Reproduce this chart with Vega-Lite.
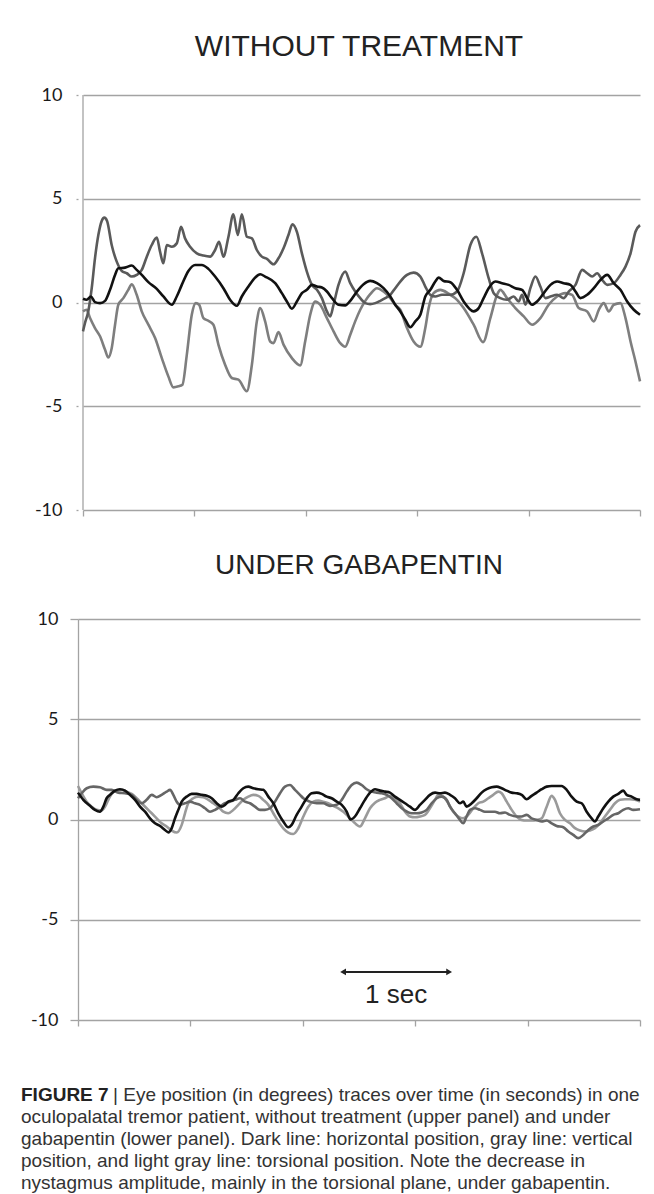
{
  "$schema": "https://vega.github.io/schema/vega-lite/v6.json",
  "background": "white",
  "padding": {"left": 21, "top": 32, "right": 0, "bottom": 0},
  "spacing": 33,
  "config": {
    "view": {"stroke": null},
    "font": "Liberation Sans",
    "title": {"font": "Liberation Sans", "fontWeight": "normal", "color": "#222222", "anchor": "middle"}
  },
  "datasets": {
    "top_h": [{"t":0,"v":0.18},{"t":0.035,"v":0.13},{"t":0.076,"v":0.29},{"t":0.114,"v":0.02},{"t":0.162,"v":-0.03},{"t":0.21,"v":0.08},{"t":0.257,"v":0.61},{"t":0.305,"v":1.33},{"t":0.336,"v":1.65},{"t":0.4,"v":1.68},{"t":0.464,"v":1.78},{"t":0.511,"v":1.57},{"t":0.559,"v":1.33},{"t":0.622,"v":0.98},{"t":0.702,"v":0.66},{"t":0.765,"v":0.29},{"t":0.845,"v":-0.11},{"t":0.892,"v":0.29},{"t":0.94,"v":0.85},{"t":1.003,"v":1.52},{"t":1.067,"v":1.81},{"t":1.13,"v":1.81},{"t":1.193,"v":1.62},{"t":1.257,"v":1.25},{"t":1.336,"v":0.69},{"t":1.4,"v":0.13},{"t":1.464,"v":-0.16},{"t":1.511,"v":0.29},{"t":1.574,"v":0.77},{"t":1.638,"v":1.2},{"t":1.686,"v":1.36},{"t":1.733,"v":1.25},{"t":1.829,"v":0.93},{"t":1.892,"v":0.45},{"t":1.94,"v":0.05},{"t":1.988,"v":-0.3},{"t":2.035,"v":0.05},{"t":2.083,"v":0.45},{"t":2.13,"v":0.61},{"t":2.178,"v":0.85},{"t":2.226,"v":0.77},{"t":2.273,"v":0.72},{"t":2.321,"v":0.53},{"t":2.369,"v":0.21},{"t":2.431,"v":-0.11},{"t":2.495,"v":-0.14},{"t":2.543,"v":0.08},{"t":2.607,"v":0.53},{"t":2.67,"v":0.88},{"t":2.733,"v":1.04},{"t":2.797,"v":0.93},{"t":2.86,"v":0.69},{"t":2.924,"v":0.29},{"t":2.971,"v":-0.11},{"t":3.019,"v":-0.43},{"t":3.067,"v":-0.83},{"t":3.114,"v":-1.19},{"t":3.162,"v":-0.91},{"t":3.21,"v":-0.59},{"t":3.257,"v":0.29},{"t":3.305,"v":0.61},{"t":3.352,"v":1.01},{"t":3.384,"v":1.2},{"t":3.431,"v":1.04},{"t":3.495,"v":0.98},{"t":3.559,"v":0.61},{"t":3.622,"v":0.05},{"t":3.717,"v":-0.43},{"t":3.765,"v":-0.27},{"t":3.812,"v":0.21},{"t":3.86,"v":0.69},{"t":3.924,"v":1.01},{"t":3.988,"v":0.93},{"t":4.05,"v":0.85},{"t":4.114,"v":0.69},{"t":4.178,"v":0.61},{"t":4.226,"v":0.21},{"t":4.273,"v":-0.11},{"t":4.321,"v":0.05},{"t":4.384,"v":0.45},{"t":4.448,"v":0.85},{"t":4.511,"v":1.01},{"t":4.574,"v":0.93},{"t":4.638,"v":0.85},{"t":4.686,"v":0.53},{"t":4.733,"v":0.21},{"t":4.797,"v":0.37},{"t":4.86,"v":0.69},{"t":4.924,"v":1.09},{"t":4.988,"v":1.33},{"t":5.05,"v":0.93},{"t":5.114,"v":0.61},{"t":5.178,"v":0.05},{"t":5.241,"v":-0.35},{"t":5.3,"v":-0.59}],
    "top_v": [{"t":0,"v":-1.39},{"t":0.019,"v":-0.99},{"t":0.05,"v":-0.43},{"t":0.083,"v":0.69},{"t":0.114,"v":2.13},{"t":0.146,"v":3.25},{"t":0.178,"v":3.93},{"t":0.203,"v":4.09},{"t":0.229,"v":3.93},{"t":0.273,"v":2.77},{"t":0.321,"v":1.97},{"t":0.369,"v":1.52},{"t":0.416,"v":1.41},{"t":0.464,"v":1.25},{"t":0.511,"v":1.33},{"t":0.559,"v":1.57},{"t":0.607,"v":2.21},{"t":0.654,"v":2.77},{"t":0.702,"v":3.13},{"t":0.733,"v":2.45},{"t":0.765,"v":1.89},{"t":0.797,"v":2.77},{"t":0.845,"v":2.69},{"t":0.892,"v":2.85},{"t":0.933,"v":3.65},{"t":0.971,"v":3.09},{"t":1.019,"v":2.69},{"t":1.083,"v":2.37},{"t":1.146,"v":2.26},{"t":1.21,"v":2.21},{"t":1.257,"v":2.53},{"t":1.295,"v":2.93},{"t":1.336,"v":2.21},{"t":1.384,"v":3.17},{"t":1.431,"v":4.25},{"t":1.473,"v":3.25},{"t":1.511,"v":4.25},{"t":1.559,"v":3.17},{"t":1.607,"v":3.09},{"t":1.654,"v":2.53},{"t":1.702,"v":2.21},{"t":1.75,"v":2.1},{"t":1.812,"v":1.84},{"t":1.86,"v":2.13},{"t":1.908,"v":2.61},{"t":1.955,"v":3.25},{"t":1.993,"v":3.77},{"t":2.035,"v":3.41},{"t":2.083,"v":2.37},{"t":2.13,"v":1.49},{"t":2.178,"v":0.85},{"t":2.226,"v":0.61},{"t":2.273,"v":0.21},{"t":2.321,"v":-0.43},{"t":2.352,"v":-0.67},{"t":2.384,"v":-0.11},{"t":2.431,"v":0.85},{"t":2.495,"v":1.49},{"t":2.543,"v":0.93},{"t":2.59,"v":0.53},{"t":2.638,"v":0.21},{"t":2.686,"v":-0.03},{"t":2.733,"v":-0.08},{"t":2.781,"v":-0.03},{"t":2.829,"v":0.08},{"t":2.876,"v":0.21},{"t":2.924,"v":0.37},{"t":2.971,"v":0.69},{"t":3.019,"v":1.01},{"t":3.083,"v":1.33},{"t":3.146,"v":1.44},{"t":3.21,"v":1.25},{"t":3.257,"v":0.77},{"t":3.305,"v":0.37},{"t":3.352,"v":0.29},{"t":3.416,"v":0.37},{"t":3.495,"v":0.37},{"t":3.559,"v":0.53},{"t":3.622,"v":1.41},{"t":3.686,"v":2.77},{"t":3.743,"v":3.17},{"t":3.797,"v":2.37},{"t":3.86,"v":1.17},{"t":3.908,"v":0.45},{"t":3.971,"v":0.21},{"t":4.035,"v":0.13},{"t":4.098,"v":0.29},{"t":4.146,"v":0.05},{"t":4.178,"v":0.37},{"t":4.21,"v":-0.11},{"t":4.257,"v":0.69},{"t":4.305,"v":1.25},{"t":4.352,"v":0.77},{"t":4.4,"v":0.21},{"t":4.448,"v":0.29},{"t":4.511,"v":0.37},{"t":4.574,"v":0.21},{"t":4.622,"v":0.53},{"t":4.686,"v":0.85},{"t":4.75,"v":1.57},{"t":4.797,"v":1.41},{"t":4.845,"v":1.25},{"t":4.892,"v":1.41},{"t":4.94,"v":1.09},{"t":4.988,"v":0.85},{"t":5.05,"v":0.93},{"t":5.114,"v":1.33},{"t":5.162,"v":1.73},{"t":5.21,"v":2.37},{"t":5.257,"v":3.41},{"t":5.3,"v":3.73}],
    "top_t": [{"t":0,"v":-0.43},{"t":0.035,"v":-0.35},{"t":0.067,"v":-0.75},{"t":0.114,"v":-1.23},{"t":0.162,"v":-1.63},{"t":0.21,"v":-2.28},{"t":0.241,"v":-2.65},{"t":0.273,"v":-2.2},{"t":0.305,"v":-1.07},{"t":0.336,"v":-0.11},{"t":0.384,"v":0.21},{"t":0.431,"v":0.61},{"t":0.464,"v":0.88},{"t":0.511,"v":0.37},{"t":0.559,"v":-0.43},{"t":0.622,"v":-1.07},{"t":0.686,"v":-1.71},{"t":0.75,"v":-2.68},{"t":0.812,"v":-3.56},{"t":0.86,"v":-4.09},{"t":0.908,"v":-4.04},{"t":0.946,"v":-3.96},{"t":0.988,"v":-2.51},{"t":1.035,"v":-0.59},{"t":1.073,"v":-0.03},{"t":1.105,"v":-0.11},{"t":1.146,"v":-0.75},{"t":1.193,"v":-0.88},{"t":1.241,"v":-1.07},{"t":1.289,"v":-2.04},{"t":1.352,"v":-3.0},{"t":1.416,"v":-3.64},{"t":1.479,"v":-3.72},{"t":1.559,"v":-4.28},{"t":1.607,"v":-3.0},{"t":1.654,"v":-0.91},{"t":1.686,"v":-0.27},{"t":1.733,"v":-0.91},{"t":1.781,"v":-1.88},{"t":1.812,"v":-1.96},{"t":1.86,"v":-1.43},{"t":1.908,"v":-2.03},{"t":1.988,"v":-2.68},{"t":2.067,"v":-3.03},{"t":2.114,"v":-1.88},{"t":2.162,"v":-0.59},{"t":2.21,"v":0.05},{"t":2.257,"v":-0.11},{"t":2.321,"v":-0.75},{"t":2.384,"v":-1.39},{"t":2.448,"v":-1.96},{"t":2.495,"v":-2.13},{"t":2.543,"v":-1.55},{"t":2.59,"v":-0.91},{"t":2.638,"v":-0.35},{"t":2.686,"v":0.08},{"t":2.733,"v":0.4},{"t":2.797,"v":0.69},{"t":2.86,"v":0.53},{"t":2.924,"v":0.21},{"t":2.971,"v":-0.11},{"t":3.019,"v":-0.35},{"t":3.083,"v":-1.23},{"t":3.146,"v":-1.88},{"t":3.21,"v":-2.13},{"t":3.257,"v":-1.23},{"t":3.289,"v":-0.27},{"t":3.336,"v":0.45},{"t":3.4,"v":0.61},{"t":3.464,"v":0.48},{"t":3.495,"v":0.37},{"t":3.559,"v":0.13},{"t":3.622,"v":-0.27},{"t":3.717,"v":-1.07},{"t":3.807,"v":-1.91},{"t":3.876,"v":-0.75},{"t":3.94,"v":0.37},{"t":3.971,"v":0.61},{"t":4.035,"v":0.21},{"t":4.114,"v":-0.27},{"t":4.194,"v":-0.67},{"t":4.273,"v":-1.07},{"t":4.352,"v":-0.75},{"t":4.431,"v":-0.11},{"t":4.511,"v":0.29},{"t":4.59,"v":0.45},{"t":4.654,"v":0.37},{"t":4.717,"v":-0.27},{"t":4.797,"v":-0.43},{"t":4.86,"v":-0.91},{"t":4.908,"v":-0.35},{"t":4.955,"v":-0.03},{"t":5.003,"v":-0.43},{"t":5.05,"v":-0.11},{"t":5.114,"v":-0.03},{"t":5.162,"v":-0.75},{"t":5.21,"v":-1.88},{"t":5.257,"v":-2.84},{"t":5.3,"v":-3.8}],
    "bot_h": [{"t":0,"v":1.34},{"t":0.05,"v":0.98},{"t":0.113,"v":0.68},{"t":0.16,"v":0.48},{"t":0.207,"v":0.39},{"t":0.239,"v":0.64},{"t":0.27,"v":1.06},{"t":0.302,"v":1.23},{"t":0.349,"v":1.44},{"t":0.396,"v":1.51},{"t":0.443,"v":1.44},{"t":0.49,"v":1.23},{"t":0.538,"v":0.98},{"t":0.585,"v":0.64},{"t":0.632,"v":0.39},{"t":0.679,"v":0.06},{"t":0.726,"v":-0.19},{"t":0.773,"v":-0.32},{"t":0.82,"v":-0.52},{"t":0.852,"v":-0.64},{"t":0.883,"v":-0.44},{"t":0.915,"v":0.06},{"t":0.946,"v":0.48},{"t":0.978,"v":0.89},{"t":1.025,"v":1.14},{"t":1.072,"v":1.28},{"t":1.119,"v":1.28},{"t":1.166,"v":1.23},{"t":1.214,"v":1.18},{"t":1.261,"v":1.06},{"t":1.308,"v":0.81},{"t":1.355,"v":0.64},{"t":1.386,"v":0.73},{"t":1.417,"v":0.89},{"t":1.465,"v":0.98},{"t":1.512,"v":1.31},{"t":1.559,"v":1.56},{"t":1.606,"v":1.64},{"t":1.653,"v":1.56},{"t":1.7,"v":1.51},{"t":1.747,"v":1.48},{"t":1.795,"v":1.14},{"t":1.842,"v":0.81},{"t":1.889,"v":0.31},{"t":1.936,"v":-0.1},{"t":1.983,"v":-0.39},{"t":2.015,"v":-0.27},{"t":2.062,"v":0.23},{"t":2.109,"v":0.64},{"t":2.157,"v":1.06},{"t":2.204,"v":1.31},{"t":2.251,"v":1.34},{"t":2.298,"v":1.28},{"t":2.345,"v":1.14},{"t":2.392,"v":1.06},{"t":2.44,"v":0.89},{"t":2.487,"v":0.73},{"t":2.534,"v":0.39},{"t":2.57,"v":0.0},{"t":2.612,"v":0.15},{"t":2.659,"v":0.56},{"t":2.706,"v":0.98},{"t":2.754,"v":1.34},{"t":2.801,"v":1.51},{"t":2.848,"v":1.44},{"t":2.895,"v":1.39},{"t":2.942,"v":1.34},{"t":2.989,"v":1.14},{"t":3.036,"v":0.98},{"t":3.084,"v":0.81},{"t":3.131,"v":0.64},{"t":3.178,"v":0.48},{"t":3.225,"v":0.73},{"t":3.272,"v":0.98},{"t":3.319,"v":1.23},{"t":3.367,"v":1.34},{"t":3.414,"v":1.31},{"t":3.461,"v":1.34},{"t":3.508,"v":1.23},{"t":3.555,"v":1.06},{"t":3.602,"v":0.81},{"t":3.633,"v":0.89},{"t":3.665,"v":0.64},{"t":3.713,"v":0.81},{"t":3.76,"v":1.06},{"t":3.807,"v":1.34},{"t":3.854,"v":1.51},{"t":3.901,"v":1.61},{"t":3.948,"v":1.64},{"t":3.995,"v":1.56},{"t":4.043,"v":1.44},{"t":4.09,"v":1.34},{"t":4.137,"v":1.31},{"t":4.184,"v":1.23},{"t":4.231,"v":1.01},{"t":4.278,"v":1.18},{"t":4.325,"v":1.34},{"t":4.373,"v":1.51},{"t":4.42,"v":1.64},{"t":4.467,"v":1.67},{"t":4.514,"v":1.67},{"t":4.561,"v":1.67},{"t":4.608,"v":1.48},{"t":4.655,"v":1.14},{"t":4.703,"v":0.89},{"t":4.75,"v":0.81},{"t":4.797,"v":0.39},{"t":4.844,"v":0.06},{"t":4.875,"v":-0.1},{"t":4.906,"v":0.15},{"t":4.954,"v":0.56},{"t":5.001,"v":0.89},{"t":5.048,"v":1.14},{"t":5.095,"v":1.28},{"t":5.142,"v":1.44},{"t":5.174,"v":1.23},{"t":5.221,"v":1.14},{"t":5.268,"v":1.01},{"t":5.3,"v":0.98}],
    "bot_v": [{"t":0,"v":1.06},{"t":0.035,"v":1.31},{"t":0.082,"v":1.56},{"t":0.144,"v":1.64},{"t":0.207,"v":1.61},{"t":0.27,"v":1.48},{"t":0.317,"v":1.48},{"t":0.38,"v":1.34},{"t":0.443,"v":1.31},{"t":0.506,"v":1.23},{"t":0.553,"v":0.98},{"t":0.6,"v":0.81},{"t":0.647,"v":0.98},{"t":0.695,"v":1.23},{"t":0.742,"v":1.11},{"t":0.789,"v":1.23},{"t":0.836,"v":1.39},{"t":0.868,"v":1.48},{"t":0.899,"v":1.23},{"t":0.931,"v":0.89},{"t":0.962,"v":0.73},{"t":1.009,"v":0.81},{"t":1.056,"v":0.89},{"t":1.103,"v":0.81},{"t":1.15,"v":0.73},{"t":1.198,"v":0.56},{"t":1.245,"v":0.39},{"t":1.292,"v":0.48},{"t":1.339,"v":0.64},{"t":1.386,"v":0.81},{"t":1.433,"v":0.89},{"t":1.481,"v":0.98},{"t":1.528,"v":1.06},{"t":1.575,"v":0.89},{"t":1.622,"v":0.81},{"t":1.669,"v":0.64},{"t":1.716,"v":0.48},{"t":1.763,"v":0.48},{"t":1.811,"v":0.56},{"t":1.858,"v":0.89},{"t":1.905,"v":1.31},{"t":1.952,"v":1.64},{"t":1.999,"v":1.72},{"t":2.046,"v":1.48},{"t":2.093,"v":1.23},{"t":2.125,"v":1.06},{"t":2.188,"v":0.89},{"t":2.251,"v":0.81},{"t":2.313,"v":0.81},{"t":2.376,"v":0.68},{"t":2.44,"v":0.73},{"t":2.487,"v":0.98},{"t":2.534,"v":1.39},{"t":2.581,"v":1.72},{"t":2.628,"v":1.84},{"t":2.675,"v":1.72},{"t":2.722,"v":1.51},{"t":2.77,"v":1.39},{"t":2.817,"v":1.34},{"t":2.864,"v":1.31},{"t":2.911,"v":1.23},{"t":2.958,"v":1.06},{"t":3.005,"v":0.81},{"t":3.053,"v":0.56},{"t":3.1,"v":0.4},{"t":3.147,"v":0.31},{"t":3.194,"v":0.31},{"t":3.241,"v":0.35},{"t":3.288,"v":0.48},{"t":3.335,"v":0.81},{"t":3.383,"v":1.06},{"t":3.43,"v":1.14},{"t":3.477,"v":0.98},{"t":3.508,"v":0.64},{"t":3.555,"v":0.31},{"t":3.602,"v":-0.02},{"t":3.633,"v":-0.19},{"t":3.665,"v":0.15},{"t":3.697,"v":0.48},{"t":3.744,"v":0.56},{"t":3.791,"v":0.48},{"t":3.838,"v":0.39},{"t":3.885,"v":0.39},{"t":3.932,"v":0.39},{"t":3.979,"v":0.31},{"t":4.027,"v":0.35},{"t":4.074,"v":0.23},{"t":4.137,"v":0.15},{"t":4.184,"v":0.15},{"t":4.231,"v":0.23},{"t":4.278,"v":0.06},{"t":4.325,"v":-0.02},{"t":4.373,"v":-0.1},{"t":4.42,"v":-0.05},{"t":4.467,"v":-0.19},{"t":4.514,"v":-0.32},{"t":4.577,"v":-0.39},{"t":4.624,"v":-0.6},{"t":4.671,"v":-0.77},{"t":4.718,"v":-0.93},{"t":4.765,"v":-0.77},{"t":4.813,"v":-0.52},{"t":4.86,"v":-0.35},{"t":4.906,"v":-0.27},{"t":4.954,"v":-0.1},{"t":5.001,"v":0.06},{"t":5.048,"v":0.23},{"t":5.095,"v":0.31},{"t":5.142,"v":0.48},{"t":5.189,"v":0.56},{"t":5.236,"v":0.48},{"t":5.3,"v":0.51}],
    "bot_t": [{"t":0,"v":1.67},{"t":0.035,"v":1.31},{"t":0.082,"v":0.89},{"t":0.129,"v":0.64},{"t":0.176,"v":0.48},{"t":0.223,"v":0.45},{"t":0.255,"v":0.64},{"t":0.286,"v":0.98},{"t":0.317,"v":1.28},{"t":0.364,"v":1.44},{"t":0.412,"v":1.48},{"t":0.459,"v":1.39},{"t":0.506,"v":1.28},{"t":0.553,"v":1.06},{"t":0.6,"v":0.81},{"t":0.647,"v":0.56},{"t":0.695,"v":0.31},{"t":0.742,"v":0.06},{"t":0.789,"v":-0.19},{"t":0.836,"v":-0.35},{"t":0.883,"v":-0.55},{"t":0.931,"v":-0.65},{"t":0.978,"v":-0.27},{"t":1.009,"v":0.31},{"t":1.04,"v":0.81},{"t":1.087,"v":1.06},{"t":1.135,"v":1.14},{"t":1.182,"v":1.11},{"t":1.229,"v":0.98},{"t":1.276,"v":0.81},{"t":1.323,"v":0.64},{"t":1.37,"v":0.39},{"t":1.417,"v":0.31},{"t":1.465,"v":0.48},{"t":1.512,"v":0.73},{"t":1.559,"v":0.98},{"t":1.606,"v":1.14},{"t":1.653,"v":1.23},{"t":1.7,"v":1.18},{"t":1.747,"v":0.98},{"t":1.795,"v":0.73},{"t":1.842,"v":0.31},{"t":1.889,"v":-0.1},{"t":1.936,"v":-0.44},{"t":1.983,"v":-0.65},{"t":2.03,"v":-0.72},{"t":2.077,"v":-0.44},{"t":2.125,"v":0.15},{"t":2.172,"v":0.64},{"t":2.219,"v":0.89},{"t":2.266,"v":0.94},{"t":2.313,"v":0.89},{"t":2.36,"v":0.81},{"t":2.408,"v":0.68},{"t":2.455,"v":0.56},{"t":2.502,"v":0.39},{"t":2.549,"v":0.15},{"t":2.596,"v":-0.1},{"t":2.659,"v":-0.35},{"t":2.706,"v":0.06},{"t":2.754,"v":0.56},{"t":2.801,"v":0.84},{"t":2.848,"v":0.98},{"t":2.895,"v":1.06},{"t":2.942,"v":1.18},{"t":2.989,"v":1.06},{"t":3.036,"v":0.81},{"t":3.084,"v":0.39},{"t":3.131,"v":0.15},{"t":3.178,"v":0.11},{"t":3.225,"v":0.15},{"t":3.272,"v":0.23},{"t":3.319,"v":0.56},{"t":3.367,"v":0.98},{"t":3.398,"v":1.23},{"t":3.445,"v":1.14},{"t":3.492,"v":0.81},{"t":3.539,"v":0.39},{"t":3.586,"v":0.15},{"t":3.633,"v":0.06},{"t":3.68,"v":0.23},{"t":3.728,"v":0.56},{"t":3.775,"v":0.81},{"t":3.822,"v":0.89},{"t":3.869,"v":1.06},{"t":3.916,"v":1.23},{"t":3.963,"v":1.39},{"t":3.995,"v":1.31},{"t":4.043,"v":0.89},{"t":4.09,"v":0.48},{"t":4.137,"v":0.15},{"t":4.184,"v":-0.02},{"t":4.231,"v":-0.05},{"t":4.278,"v":-0.05},{"t":4.325,"v":-0.02},{"t":4.373,"v":0.06},{"t":4.42,"v":0.64},{"t":4.467,"v":1.18},{"t":4.498,"v":0.98},{"t":4.545,"v":0.31},{"t":4.592,"v":-0.02},{"t":4.64,"v":-0.19},{"t":4.687,"v":-0.43},{"t":4.734,"v":-0.55},{"t":4.781,"v":-0.6},{"t":4.828,"v":-0.55},{"t":4.875,"v":-0.43},{"t":4.922,"v":-0.19},{"t":4.969,"v":0.15},{"t":5.016,"v":0.48},{"t":5.064,"v":0.81},{"t":5.111,"v":0.98},{"t":5.158,"v":1.01},{"t":5.205,"v":1.01},{"t":5.252,"v":0.98},{"t":5.3,"v":0.89}],
    "scalebar": [{"t":2.5,"t2":3.5,"v":-7.6,"tm":3.0,"vl":-8.75,"label":"1 sec"}],
    "caption": [
      {"line":1,"part":"b","text":"FIGURE 7"},
      {"line":1,"part":"r","text":"| Eye position (in degrees) traces over time (in seconds) in one"},
      {"line":2,"part":"n","text":"oculopalatal tremor patient, without treatment (upper panel) and under"},
      {"line":3,"part":"n","text":"gabapentin (lower panel). Dark line: horizontal position, gray line: vertical"},
      {"line":4,"part":"n","text":"position, and light gray line: torsional position. Note the decrease in"},
      {"line":5,"part":"n","text":"nystagmus amplitude, mainly in the torsional plane, under gabapentin."}
    ]
  },
  "vconcat": [
    {
      "width": 562,
      "height": 415,
      "title": {"text": "WITHOUT TREATMENT", "offset": 24, "fontSize": 30},
      "encoding": {
        "x": {"field": "t", "type": "quantitative",
          "scale": {"domain": [0, 5.3], "range": [5, 562], "nice": false, "zero": false},
          "axis": {"values": [0, 1.06, 2.12, 3.18, 4.24, 5.3], "labels": false, "domain": false, "grid": false, "ticks": true, "tickSize": 6, "tickColor": "#a3a3a3", "tickWidth": 1.3, "title": null}},
        "y": {"field": "v", "type": "quantitative",
          "scale": {"domain": [-10, 10], "nice": false, "zero": false},
          "axis": {"values": [-10, -5, 0, 5, 10], "grid": true, "gridColor": "#a3a3a3", "gridWidth": 1.3, "domain": false, "ticks": true, "tickSize": 2, "tickColor": "#a3a3a3", "tickWidth": 1.3, "labelPadding": 14, "labelFont": "Lato", "labelFontSize": 18, "labelColor": "#1a1a1a", "labelExpr": "toString(datum.value)", "title": null, "minExtent": 57, "maxExtent": 57}}
      },
      "layer": [
        {"data": {"values": [{"t": 0, "v": -10, "v2": 10}]}, "mark": {"type": "rule", "color": "#a3a3a3", "strokeWidth": 1.3}, "encoding": {"y2": {"field": "v2"}}},
        {"data": {"name": "top_t"}, "mark": {"type": "line", "color": "#7e7e7e", "strokeWidth": 2.6, "interpolate": "monotone"}, "encoding": {}},
        {"data": {"name": "top_v"}, "mark": {"type": "line", "color": "#5a5a5a", "strokeWidth": 2.6, "interpolate": "monotone"}, "encoding": {}},
        {"data": {"name": "top_h"}, "mark": {"type": "line", "color": "#111111", "strokeWidth": 2.6, "interpolate": "monotone"}, "encoding": {}}
      ]
    },
    {
      "width": 562,
      "height": 401,
      "title": {"text": "UNDER GABAPENTIN", "offset": 30, "fontSize": 28},
      "encoding": {
        "x": {"field": "t", "type": "quantitative",
          "scale": {"domain": [0, 5.3], "nice": false, "zero": false},
          "axis": {"values": [0, 1.06, 2.12, 3.18, 4.24, 5.3], "labels": false, "domain": false, "grid": false, "ticks": true, "tickSize": 6, "tickColor": "#a3a3a3", "tickWidth": 1.3, "title": null}},
        "y": {"field": "v", "type": "quantitative",
          "scale": {"domain": [-10, 10], "nice": false, "zero": false},
          "axis": {"values": [-10, -5, 0, 5, 10], "grid": true, "gridColor": "#a3a3a3", "gridWidth": 1.3, "domain": true, "domainColor": "#a3a3a3", "domainWidth": 1.3, "ticks": true, "tickSize": 8, "tickColor": "#a3a3a3", "tickWidth": 1.3, "labelPadding": 12, "labelFont": "Lato", "labelFontSize": 18, "labelColor": "#1a1a1a", "labelExpr": "toString(datum.value)", "title": null, "minExtent": 57, "maxExtent": 57}}
      },
      "layer": [
        {"data": {"name": "bot_t"}, "mark": {"type": "line", "color": "#9a9a9a", "strokeWidth": 2.6, "interpolate": "monotone"}, "encoding": {}},
        {"data": {"name": "bot_v"}, "mark": {"type": "line", "color": "#666666", "strokeWidth": 2.6, "interpolate": "monotone"}, "encoding": {}},
        {"data": {"name": "bot_h"}, "mark": {"type": "line", "color": "#111111", "strokeWidth": 2.6, "interpolate": "monotone"}, "encoding": {}},
        {"data": {"name": "scalebar"}, "mark": {"type": "rule", "color": "#222222", "strokeWidth": 2}, "encoding": {"x2": {"field": "t2"}}},
        {"data": {"name": "scalebar"}, "mark": {"type": "point", "shape": "triangle-left", "filled": true, "size": 45, "color": "#222222", "opacity": 1}, "encoding": {}},
        {"data": {"name": "scalebar"}, "mark": {"type": "point", "shape": "triangle-right", "filled": true, "size": 45, "color": "#222222", "opacity": 1}, "encoding": {"x": {"field": "t2", "type": "quantitative"}}},
        {"data": {"name": "scalebar"}, "mark": {"type": "text", "font": "Liberation Sans", "fontSize": 26, "color": "#222222", "align": "center", "baseline": "middle"}, "encoding": {"x": {"field": "tm", "type": "quantitative"}, "y": {"field": "vl", "type": "quantitative"}, "text": {"field": "label"}}}
      ]
    },
    {
      "width": 610,
      "height": 127,
      "data": {"name": "caption"},
      "encoding": {
        "y": {"field": "line", "type": "ordinal", "scale": {"type": "point", "padding": 0.886, "align": 1}, "axis": null},
        "x": {"value": 0},
        "text": {"field": "text"}
      },
      "layer": [
        {"transform": [{"filter": "datum.part == 'b'"}], "mark": {"type": "text", "align": "left", "baseline": "alphabetic", "font": "Liberation Sans", "fontSize": 19, "fontWeight": "bold", "color": "#222222", "dx": -57}},
        {"transform": [{"filter": "datum.part == 'r'"}], "mark": {"type": "text", "align": "left", "baseline": "alphabetic", "font": "Liberation Sans", "fontSize": 19, "color": "#333333", "dx": 35}},
        {"transform": [{"filter": "datum.part == 'n'"}], "mark": {"type": "text", "align": "left", "baseline": "alphabetic", "font": "Liberation Sans", "fontSize": 19, "color": "#333333", "dx": -57}}
      ]
    }
  ]
}
